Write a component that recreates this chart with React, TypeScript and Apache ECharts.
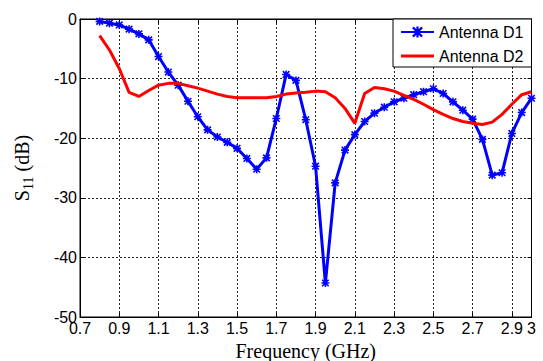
import React, { useEffect, useRef } from "react";
import * as echarts from "echarts";

const freqGHz = [
  0.8, 0.85, 0.9, 0.95, 1.0, 1.05, 1.1, 1.15, 1.2, 1.25, 1.3, 1.35, 1.4, 1.45, 1.5,
  1.55, 1.6, 1.65, 1.7, 1.75, 1.8, 1.85, 1.9, 1.95, 2.0, 2.05, 2.1, 2.15, 2.2, 2.25,
  2.3, 2.35, 2.4, 2.45, 2.5, 2.55, 2.6, 2.65, 2.7, 2.75, 2.8, 2.85, 2.9, 2.95, 3.0,
];

const antennaD1 = [
  -0.4, -0.7, -1.0, -1.7, -2.5, -3.5, -6.3, -8.9, -11.1, -13.8, -16.4, -18.6, -19.8, -20.7, -21.7,
  -23.4, -25.2, -23.3, -16.7, -9.3, -10.3, -16.9, -24.7, -44.3, -27.5, -22.0, -19.4, -17.2, -15.8, -14.8,
  -13.9, -13.3, -12.7, -12.2, -11.7, -12.5, -13.9, -15.3, -16.8, -20.2, -26.2, -25.8, -19.2, -15.7, -13.3,
];

const antennaD2 = [
  -2.8, -5.2, -8.3, -12.3, -13.0, -12.0, -11.1, -10.8, -10.8, -11.2, -11.6, -12.1, -12.6, -13.0, -13.2,
  -13.2, -13.2, -13.2, -13.0, -12.6, -12.4, -12.3, -12.1, -12.2, -13.2, -15.0, -17.5, -12.5, -11.5, -11.7,
  -12.1, -12.8, -13.5, -14.3, -15.2, -16.0, -16.7, -17.2, -17.5, -17.7, -17.3, -16.0, -14.3, -12.7, -12.2,
];

const seriesNames = ["Antenna D1", "Antenna D2"];

const asterisk =
  "path://M0,4 H10 V6 H0 Z M4,0 H6 V10 H4 Z M1.6,0.2 L9.8,8.4 L8.4,9.8 L0.2,1.6 Z M8.4,0.2 L9.8,1.6 L1.6,9.8 L0.2,8.4 Z";

const lineIcon = "path://M0,0 H33 V3 H0 Z";

export default function App() {
  const ref = useRef<HTMLDivElement>(null);

  useEffect(() => {
    if (!ref.current) return;
    const chart = echarts.init(ref.current, null, { renderer: "svg" });

    const d1 = freqGHz.map((f, i) => [f, antennaD1[i]]);
    const d2 = freqGHz.map((f, i) => [f, antennaD2[i]]);

    const sans = "Liberation Sans";
    const serif = "Liberation Serif";

    const gridLine = { show: true, lineStyle: { color: "#222", type: [2, 2] as any, width: 1 } };

    chart.setOption({
      animation: false,
      backgroundColor: "#fff",
      grid: {
        left: 80,
        right: 11.5,
        top: 19,
        bottom: 44,
        show: true,
        borderColor: "#000",
        borderWidth: 1,
        backgroundColor: "#fff",
        outerBoundsMode: "none",
        containLabel: false,
      },
      legend: {
        data: [{ name: seriesNames[0] }, { name: seriesNames[1], icon: lineIcon }],
        orient: "vertical",
        left: 393,
        top: 19,
        itemWidth: 33,
        itemHeight: 14,
        itemGap: 8,
        symbolKeepAspect: true,
        padding: [5, 8, 3, 7],
        borderColor: "#000",
        borderWidth: 1,
        backgroundColor: "#fff",
        textStyle: { fontFamily: sans, fontSize: 16, color: "#000", lineHeight: 16 },
      },
      xAxis: [
        {
          type: "value",
          position: "bottom",
          min: 0.7,
          max: 3.0,
          interval: 0.2,
          axisLine: { show: true, onZero: false, lineStyle: { color: "#000", width: 1 } },
          axisTick: { show: true, inside: true, length: 4, lineStyle: { color: "#000" } },
          axisLabel: {
            show: true,
            color: "#000",
            fontFamily: sans,
            fontSize: 16,
            margin: 3,
            showMinLabel: true,
            showMaxLabel: true,
            hideOverlap: false,
            formatter: (v: number) => String(Math.round(v * 10) / 10),
          },
          splitLine: gridLine,
          name: "Frequency (GHz)",
          nameLocation: "middle",
          nameGap: 21,
          nameTextStyle: { fontFamily: serif, fontSize: 20, color: "#000" },
        },
        {
          type: "value",
          position: "top",
          min: 0.7,
          max: 3.0,
          interval: 0.2,
          axisLine: { show: true, onZero: false, lineStyle: { color: "#000", width: 1 } },
          axisTick: { show: true, inside: true, length: 4, lineStyle: { color: "#000" } },
          axisLabel: { show: false },
          splitLine: { show: false },
        },
      ],
      yAxis: [
        {
          type: "value",
          position: "left",
          min: -50,
          max: 0,
          interval: 10,
          axisLine: { show: true, onZero: false, lineStyle: { color: "#000", width: 1 } },
          axisTick: { show: true, inside: true, length: 4, lineStyle: { color: "#000" } },
          axisLabel: {
            show: true,
            color: "#000",
            fontFamily: sans,
            fontSize: 16,
            margin: 3,
            showMinLabel: true,
            showMaxLabel: true,
            hideOverlap: false,
          },
          splitLine: gridLine,
          name: "{s|S}{sub|11}{s| (dB)}",
          nameLocation: "middle",
          nameGap: 45,
          nameTextStyle: {
            color: "#000",
            rich: {
              s: { fontFamily: serif, fontSize: 20, lineHeight: 26, color: "#000" },
              sub: {
                fontFamily: serif,
                fontSize: 14,
                lineHeight: 14,
                verticalAlign: "bottom",
                color: "#000",
              },
            },
          },
        },
        {
          type: "value",
          position: "right",
          min: -50,
          max: 0,
          interval: 10,
          axisLine: { show: true, onZero: false, lineStyle: { color: "#000", width: 1 } },
          axisTick: { show: true, inside: true, length: 4, lineStyle: { color: "#000" } },
          axisLabel: { show: false },
          splitLine: { show: false },
        },
      ],
      series: [
        {
          name: seriesNames[0],
          type: "line",
          xAxisIndex: 0,
          yAxisIndex: 0,
          data: d1,
          symbol: asterisk,
          symbolSize: 8,
          showSymbol: true,
          lineStyle: { color: "#0000ff", width: 3 },
          itemStyle: { color: "#0000ff" },
          z: 2,
        },
        {
          name: seriesNames[1],
          type: "line",
          xAxisIndex: 0,
          yAxisIndex: 0,
          data: d2,
          symbol: "none",
          showSymbol: false,
          lineStyle: { color: "#ff0000", width: 3 },
          itemStyle: { color: "#ff0000" },
          z: 3,
        },
      ],
    });

    return () => chart.dispose();
  }, []);

  return (
    <div
      ref={ref}
      style={{ position: "absolute", left: 0, top: 0, width: 543, height: 361, background: "#fff" }}
    />
  );
}
